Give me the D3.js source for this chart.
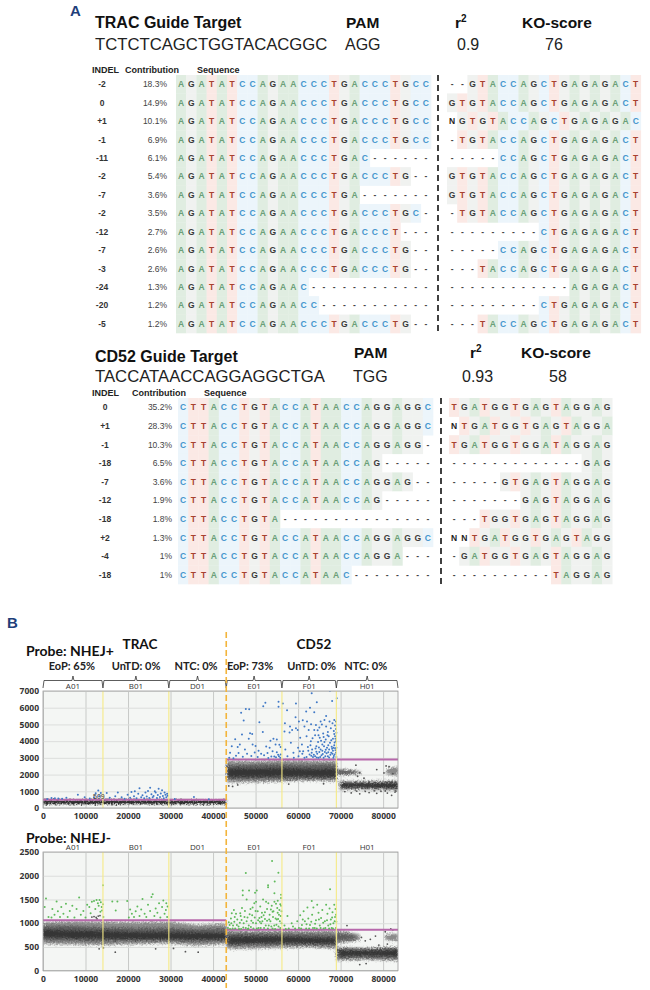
<!DOCTYPE html>
<meta charset="utf-8">
<html>
<head>
<script src="https://d3js.org/d3.v7.min.js"></script>
<style>
  body { margin: 0; background: #fff; }
  text { font-family: "Liberation Sans", Arial, sans-serif; }
  .cal { font-family: Lato, "Open Sans", sans-serif; }
</style>
</head>
<body>
<div id="my_dataviz"></div>
<script>

// ---- panel A data ----
var tracLeftFull = "AGATATCCAGAACCCTGACCCTGCC";
var tracIndel = ["-2", "0", "+1", "-1", "-11", "-2", "-7", "-2", "-12", "-7", "-3", "-24", "-20", "-5"];
var tracContribution = ["18.3%", "14.9%", "10.1%", "6.9%", "6.1%", "5.4%", "3.6%", "3.5%", "2.7%", "2.6%", "2.6%", "1.3%", "1.2%", "1.2%"];
var tracLeft = [tracLeftFull, tracLeftFull, tracLeftFull, tracLeftFull,
  "AGATATCCAGAACCCTGAC------", "AGATATCCAGAACCCTGACCCTG--", "AGATATCCAGAACCCTGA-------",
  "AGATATCCAGAACCCTGACCCTGC-", "AGATATCCAGAACCCTGACCCT---", "AGATATCCAGAACCCTGACCCTG--",
  "AGATATCCAGAACCCTGACCCTG--", "AGATATCCAGAAC------------", "AGATATCCAGAACC-----------",
  "AGATATCCAGAACCCTGACCCTG--"];
var tracRight = ["--GTACCAGCTGAGAGACT", "GTGTACCAGCTGAGAGACT", "NGTGTACCAGCTGAGAGAC", "-TGTACCAGCTGAGAGACT",
  "-----CCAGCTGAGAGACT", "GTGTACCAGCTGAGAGACT", "GTGTACCAGCTGAGAGACT", "-TGTACCAGCTGAGAGACT",
  "---------CTGAGAGACT", "-----CCAGCTGAGAGACT", "---TACCAGCTGAGAGACT", "------------AGAGACT",
  "---------CTGAGAGACT", "---TACCAGCTGAGAGACT"];

var cd52LeftFull = "CTTACCTGTACCATAACCAGGAGGC";
var cd52Indel = ["0", "+1", "-1", "-18", "-7", "-12", "-18", "+2", "-4", "-18"];
var cd52Contribution = ["35.2%", "28.3%", "10.3%", "6.5%", "3.6%", "1.9%", "1.8%", "1.3%", "1%", "1%"];
var cd52Left = [cd52LeftFull, cd52LeftFull, "CTTACCTGTACCATAACCAGGAGG-", "CTTACCTGTACCATAACCAG-----",
  "CTTACCTGTACCATAACCAGGAG--", "CTTACCTGTACCATAACCAG-----", "CTTACCTGTA---------------",
  cd52LeftFull, "CTTACCTGTACCATAACCAGGA---", "CTTACCTGTACCATAAC--------"];
var cd52Right = ["TGATGGTGAGTAGGAG", "NTGATGGTGAGTAGGA", "TGATGGTGGATAGGAG", "-------------GAG",
  "-----GTGAGTAGGAG", "-------GAGTAGGAG", "---TGGTGAGTAGGAG", "NNTGATGGTGAGTAGG",
  "-GATGGTGAGTAGGAG", "----------TAGGAG"];

// ---- panel B data ----
var wellNames = ["A01", "B01", "D01", "E01", "F01", "H01"];
var wellEdges = [0, 14100, 29600, 43100, 56200, 69000, 83500];
var wellHeaders = ["EoP: 65%", "UnTD: 0%", "NTC: 0%", "EoP: 73%", "UnTD: 0%", "NTC: 0%"];
var wellHeaderX = [6800, 21900, 36000, 48700, 63200, 75900];
var xTicks = [0, 10000, 20000, 30000, 40000, 50000, 60000, 70000, 80000];
var topYTicks = [0, 1000, 2000, 3000, 4000, 5000, 6000, 7000];
var bottomYTicks = [0, 500, 1000, 1500, 2000, 2500];

// threshold segments: x from, x to, amplitude
var topThresholds = [[0, 43100, 500], [43100, 83500, 2900]];
var bottomThresholds = [[0, 43100, 1060], [43100, 83500, 860]];

// gray droplet clouds: level (0 outer, 1 mid, 2 core), x stops, low edge, high edge
var topClouds = [
  [3, [0, 43100], [235, 235], [470, 470]],
  [0, [43300, 47000, 52000, 56000, 62000, 69000], [1540, 1520, 1560, 1590, 1640, 1610], [2820, 2800, 2820, 2860, 2830, 2820]],
  [1, [43300, 48000, 56000, 63000, 69000], [1720, 1740, 1740, 1760, 1740], [2560, 2580, 2600, 2580, 2600]],
  [2, [43600, 50000, 56000, 62000, 68800], [1870, 1890, 1900, 1880, 1870], [2360, 2340, 2380, 2320, 2340]],
  [0, [69000, 71000, 73000, 74800], [1970, 1970, 2020, 2080], [2320, 2310, 2270, 2200]],
  [1, [69200, 71500, 73500], [2040, 2040, 2080], [2240, 2230, 2200]],
  [0, [69800, 75000, 83500], [1090, 1110, 1040], [1620, 1600, 1640]],
  [2, [70000, 76000, 83500], [1190, 1210, 1180], [1510, 1500, 1520]],
  [0, [80800, 82000, 83500], [2010, 1980, 1930], [2280, 2450, 2450]]
];
var bottomClouds = [
  [0, [0, 7000, 14100, 22000, 29600, 36000, 43100], [560, 550, 540, 560, 580, 530, 560], [1020, 1040, 1030, 1020, 1030, 960, 990]],
  [1, [0, 7000, 14100, 22000, 29600, 36000, 43100], [640, 630, 620, 630, 630, 610, 630], [940, 940, 910, 900, 900, 870, 890]],
  [2, [0, 7000, 14100, 22000, 29600, 36000, 43100], [710, 690, 680, 670, 670, 660, 660], [860, 840, 830, 810, 810, 800, 790]],
  [0, [43300, 50000, 56200, 62000, 69000], [460, 470, 490, 500, 470], [840, 840, 840, 840, 840]],
  [1, [43300, 50000, 56200, 62000, 69000], [530, 540, 540, 540, 530], [780, 780, 780, 770, 750]],
  [2, [43600, 50000, 56200, 62000, 68800], [575, 585, 595, 585, 575], [715, 715, 715, 695, 685]],
  [0, [69000, 71500, 74500], [580, 600, 640], [840, 820, 760]],
  [1, [69200, 71500, 73500], [630, 650, 670], [780, 760, 730]],
  [0, [69000, 76000, 83500], [220, 230, 210], [490, 480, 500]],
  [1, [69300, 76000, 83500], [270, 280, 260], [460, 450, 460]],
  [2, [69600, 76000, 83500], [315, 325, 305], [425, 415, 435]],
  [0, [80500, 82000, 83500], [650, 630, 630], [750, 780, 770]]
];

// stray gray droplets
var topGray = [[71000, 980], [72500, 900], [73800, 1010], [74500, 850], [75800, 1000], [76700, 920], [77900, 1030], [78500, 880], [79500, 1000], [80500, 1020], [81000, 890], [82000, 760], [82800, 950], [83000, 1020],
  [74000, 1900], [75500, 1780], [74500, 2100], [80200, 2100], [80700, 2520], [81400, 2480], [82300, 2050], [78500, 2300], [73600, 2560], [43700, 1320], [44600, 1290], [45800, 1380], [57800, 1430], [66000, 1450]];
var bottomGray = [[17000, 390], [14200, 480], [13200, 460], [33500, 400], [36500, 390], [26500, 460], [30700, 470], [71500, 950], [74900, 700], [75800, 630], [77000, 660], [78200, 730], [74500, 130], [76000, 150], [80500, 820], [81800, 880], [82300, 860], [81000, 560], [79000, 540], [12000, 1140], [12500, 1120], [13000, 1150], [11500, 1130], [13400, 1160], [12700, 1090]];

// positive droplets, top plot (blue)
var topBlue = [
  // A01
  [1000, 540], [2000, 600], [2800, 590], [3600, 570], [4500, 560], [5500, 620], [8200, 800], [9800, 640], [11000, 570], [12000, 640], [12400, 880], [13000, 1050], [13200, 700], [13600, 900],
  // B01
  [15000, 900], [15700, 620], [17000, 700], [17600, 930], [18500, 640], [19200, 560], [19900, 800], [20500, 620], [20800, 950], [21400, 700], [21600, 1000], [22000, 580], [22400, 860], [22700, 1180], [23100, 650], [23400, 760], [23800, 590], [24100, 930], [24400, 690], [24700, 1010], [25000, 600], [25200, 1210], [25500, 830], [25800, 640], [26000, 720], [26300, 1000], [26500, 920], [26800, 600], [27000, 780], [27200, 1150], [27500, 660], [27700, 870], [28000, 1060], [28200, 720], [28400, 590], [28600, 930], [28800, 800], [29000, 650], [29200, 860], [29300, 740],
  // D01
  [31000, 540], [35500, 660], [39000, 530],
  // E01
  [43800, 3000], [44000, 3310], [44400, 3700], [44800, 2980], [45200, 4120], [45400, 3120], [45800, 3650], [46000, 3290], [46300, 3800], [46600, 5700], [46800, 4400], [47000, 3070], [47200, 5230], [47500, 3500], [47700, 5930], [48000, 3250], [48400, 4140], [48500, 5910], [48700, 4470], [49000, 3110], [49200, 4430], [49300, 3800], [49800, 3320], [50000, 3710], [50500, 3050], [50700, 3420], [50900, 5130], [51300, 3240], [51700, 4550], [51800, 6090], [52000, 3150], [52300, 6300], [52500, 3680], [52800, 3290], [53000, 2990], [53300, 3600], [53500, 4020], [54000, 3400], [54200, 4140], [54400, 3080], [54700, 3800], [55000, 4100], [55000, 3330], [55300, 3190], [55400, 6060], [55400, 6360], [55600, 3780], [55800, 3010], [55900, 3650], [54800, 3030], [55500, 3100], [55900, 3200], [53700, 3080],
  // F01
  [56400, 6245], [56900, 5070], [57400, 5850], [56800, 4570], [57000, 3500], [57500, 3100], [58000, 4510], [58100, 4870], [58300, 3900], [58600, 4670], [58900, 3300], [59000, 3000], [59400, 5430], [59500, 6245], [59500, 4770], [59900, 4670], [60000, 3600], [60100, 3100], [60200, 5170], [60500, 4200], [60900, 3800], [61100, 5250], [61200, 3400], [61500, 4870], [61500, 3000], [61900, 5770], [62000, 4300], [62100, 5170], [62300, 3650], [62500, 4670], [62700, 3200], [62800, 6005], [63000, 4000], [63050, 5010], [63200, 6860], [63300, 3500], [63500, 3050], [63800, 5730], [63800, 4670], [64000, 4350], [64200, 4970], [64300, 3700], [64400, 6325], [64500, 3250], [64700, 3950], [64800, 3000], [65000, 4810], [65100, 4200], [65300, 5170], [65300, 3500], [65500, 3150], [65700, 3800], [65900, 4450], [66000, 3000], [66200, 5270], [66300, 3350], [66500, 4100], [66600, 5510], [66600, 4870], [66800, 3600], [67000, 3100], [67200, 4300], [67400, 5170], [67500, 7020], [67500, 3900], [67700, 4770], [67800, 3300], [68000, 6400], [68000, 3550], [68100, 5070], [68200, 4150], [68300, 3000], [68400, 4600], [68500, 5270], [68500, 3750], [68600, 3200], [68700, 4930], [68800, 3450], [68900, 5170], [68900, 4730], [68900, 4000], [69000, 3600], [69100, 6560], [69000, 3050], [68700, 4300], [69000, 4500], [68300, 3600], [67300, 3500], [66200, 3950], [65000, 3350], [64000, 3100], [63200, 3300], [62000, 3050], [61000, 3250], [60400, 3400], [68100, 3250], [67000, 4550], [65600, 5000], [64600, 4650],
  [62400, 3420], [62900, 3760], [63400, 4180], [63700, 3180], [64100, 3560], [64400, 3020], [64900, 3620], [65200, 3050], [65400, 4020], [65800, 3230], [66100, 3700], [66400, 3090], [66700, 3270], [66900, 4350], [67100, 3750], [67300, 3020], [67600, 3180], [67800, 4050], [67900, 3660], [68200, 3430], [68400, 3110], [68600, 3920], [68700, 3580], [68900, 3300], [68800, 4150], [68500, 4420], [67100, 3340], [66500, 3480], [65700, 3420], [64300, 3370], [63100, 3120], [66000, 4250], [64800, 4350]
];

// positive droplets, bottom plot (green)
var bottomGreen = [
  // A01
  [400, 1340], [700, 1520], [1300, 1130], [2000, 1120], [2200, 1300], [2700, 1180], [3200, 1460], [3500, 1250], [4000, 1130], [4300, 1340], [4800, 1200], [5400, 1410], [5800, 1130], [6300, 1260], [6900, 1370], [7400, 1120], [7900, 1300], [8500, 1540], [8900, 1180], [9500, 1260], [10000, 1120], [10400, 1390], [10900, 1340], [11200, 1210], [11500, 1450], [12000, 1470], [12300, 1300], [12600, 1490], [12900, 1420], [13100, 1370], [13300, 1490], [13500, 1240], [13600, 1440], [13800, 1340], [13900, 1270], [14100, 1800], [14200, 1130], [14100, 1400],
  // B01
  [16300, 1460], [17100, 1270], [17500, 1460], [19800, 1470], [20200, 1120], [20500, 1290], [20900, 1200], [21400, 1130], [21800, 1250], [22200, 1350], [22700, 1150], [23100, 1290], [23400, 1510], [23900, 1200], [24300, 1130], [24700, 1390], [25200, 1260], [25500, 1550], [25800, 1610], [26200, 1150], [26500, 1310], [26900, 1220], [27300, 1420], [27600, 1120], [28000, 1340], [28300, 1480], [28600, 1200], [28900, 1280], [29200, 1130], [29300, 1350], [29000, 1420],
  // E01
  [43500, 900], [43700, 1020], [44000, 880], [44200, 1100], [44400, 1210], [44700, 950], [45000, 1030], [45200, 890], [45400, 1200], [45700, 1080], [46000, 930], [46300, 1010], [46500, 1150], [46600, 880], [46980, 1690], [46980, 1590], [47200, 1000], [47500, 1260], [47700, 2060], [47700, 900], [47900, 1500], [48100, 1120], [48400, 950], [48470, 1690], [48800, 1300], [49000, 1050], [49200, 1170], [49500, 890], [49700, 1420], [49880, 1640], [50100, 1000], [50120, 1450], [50270, 1690], [50500, 1250], [50700, 900], [50900, 1110], [51100, 1350], [51300, 1000], [51500, 1220], [51760, 1500], [52000, 900], [52200, 1090], [52470, 1450], [52700, 1300], [52940, 1800], [52940, 1760], [53100, 950], [53300, 1180], [53500, 1040], [53880, 2310], [53800, 1370], [54000, 890], [54200, 1250], [54430, 1630], [54430, 1450], [54500, 1880], [54700, 1100], [54900, 970], [55100, 1320], [55210, 1475], [55370, 2065], [55500, 1180], [55700, 1040], [55800, 900], [56000, 1600], [56000, 1530], [56000, 1370], [56100, 1250], [56100, 1000], [44900, 1280], [46800, 1320], [48300, 890], [49300, 1330], [51000, 1030], [52200, 1230], [53600, 1290], [54800, 1410], [55300, 1090],
  [43900, 960], [44600, 890], [45100, 1130], [45600, 960], [46100, 880], [46700, 1070], [47100, 910], [47400, 1130], [47900, 1040], [48200, 880], [48600, 1190], [48900, 920], [49400, 1010], [49800, 1120], [50300, 890], [50600, 1060], [51200, 900], [51600, 1040], [51900, 1170], [52400, 950], [52700, 1050], [52900, 890], [53200, 1080], [53700, 930], [54100, 1130], [54400, 950], [54600, 880], [55000, 1080], [55400, 930], [55600, 1280], [55900, 1150], [44300, 1000], [46400, 1210], [50000, 1260], [51400, 1130], [53000, 1420], [54000, 1240], [55200, 1220], [55800, 1400],
  // F01
  [56800, 950], [57500, 1150], [57800, 890], [58500, 1000], [59300, 890], [59800, 1040], [60200, 900], [60500, 1170], [60900, 960], [61300, 1250], [61600, 1040], [61900, 890], [62200, 1330], [62400, 1100], [62800, 960], [63210, 1470], [63300, 1180], [63600, 1330], [63900, 900], [64200, 1060], [64500, 1390], [64800, 1220], [65100, 950], [65400, 1110], [65700, 1280], [66000, 890], [66300, 1040], [66600, 1390], [66900, 1200], [67100, 950], [67520, 1714], [67400, 1310], [67700, 1080], [67900, 900], [68100, 1230], [68300, 1000], [68500, 1390], [68700, 1130], [68900, 900], [68800, 1300], [69000, 1030],
  [60700, 890], [61100, 1080], [62000, 980], [62600, 890], [63100, 1030], [63500, 900], [64000, 990], [64400, 890], [64900, 1080], [65300, 900], [65900, 1010], [66400, 900], [66800, 1060], [67300, 890], [67600, 980], [68000, 1120], [68200, 890], [68600, 1040], [68900, 1180], [58800, 930], [57100, 880]
];

// ---- layout ----
var svg = d3.select("#my_dataviz")
  .append("svg")
  .attr("width", 650)
  .attr("height", 990)
  .style("display", "block");

var defs = svg.append("defs");
// ragged, soft edges for the droplet clouds
var rough = defs.append("filter").attr("id", "rough")
  .attr("x", "-5%").attr("y", "-40%").attr("width", "110%").attr("height", "180%");
rough.append("feGaussianBlur").attr("in", "SourceGraphic").attr("stdDeviation", 0.8).attr("result", "b");
rough.append("feTurbulence").attr("type", "fractalNoise").attr("baseFrequency", 0.6).attr("numOctaves", 2).attr("seed", 4).attr("result", "n");
rough.append("feDisplacementMap").attr("in", "b").attr("in2", "n").attr("scale", 5);

var baseColor = { A: "#e0ede1", C: "#ecf5fb", G: "#f0f2f0", T: "#fbe9e5" };
var letterColor = { A: "#6a9f78", C: "#4596cd", G: "#3a3a3a", T: "#a8412f", N: "#222", "-": "#444" };
var cloudColor = ["#8a8a8a", "#5c5c5c", "#363636", "#141414"];

function drawTable(g, o) {
  var rows = d3.range(o.indel.length);
  var y = d3.scaleBand().domain(rows).range([o.top, o.bottom]);
  var xLeft = d3.scaleBand().domain(d3.range(o.left[0].length))
    .range([o.leftStart, o.leftStart + o.pitch * o.left[0].length]);
  var xRight = d3.scaleBand().domain(d3.range(o.right[0].length))
    .range([o.rightStart, o.rightStart + o.pitch * o.right[0].length]);

  function strand(seqs, x) {
    var cells = [];
    seqs.forEach(function(s, r) {
      s.split("").forEach(function(b, i) { cells.push({ r: r, i: i, b: b }); });
    });
    g.append("g").selectAll("rect").data(cells.filter(function(d) { return baseColor[d.b]; }))
      .enter().append("rect")
      .attr("x", function(d) { return x(d.i); })
      .attr("y", function(d) { return y(d.r); })
      .attr("width", x.bandwidth() + 0.3)
      .attr("height", y.bandwidth() + 0.3)
      .attr("fill", function(d) { return baseColor[d.b]; });
    g.append("g").selectAll("text").data(cells)
      .enter().append("text")
      .attr("x", function(d) { return x(d.i) + x.bandwidth() / 2; })
      .attr("y", function(d) { return y(d.r) + y.bandwidth() / 2 + 3; })
      .attr("text-anchor", "middle")
      .attr("font-size", "8.5px")
      .attr("font-weight", "bold")
      .attr("fill", function(d) { return letterColor[d.b]; })
      .text(function(d) { return d.b; });
  }
  strand(o.left, xLeft);
  strand(o.right, xRight);

  g.append("g").selectAll("text").data(o.indel).enter().append("text")
    .attr("x", o.indelX)
    .attr("y", function(d, i) { return y(i) + y.bandwidth() / 2 + 3; })
    .attr("text-anchor", "middle").attr("font-size", "8.5px").attr("font-weight", "bold").attr("fill", "#333")
    .text(function(d) { return d; });
  g.append("g").selectAll("text").data(o.contribution).enter().append("text")
    .attr("x", o.contributionX)
    .attr("y", function(d, i) { return y(i) + y.bandwidth() / 2 + 3; })
    .attr("text-anchor", "end").attr("font-size", "8.5px").attr("fill", "#444")
    .text(function(d) { return d; });

  // cut site
  g.append("line").attr("x1", o.cutX).attr("x2", o.cutX).attr("y1", o.top).attr("y2", o.bottom + 2)
    .attr("stroke", "#111").attr("stroke-width", 1.6).attr("stroke-dasharray", "6 4");

  // headings
  [["INDEL", o.headX[0]], ["Contribution", o.headX[1]], ["Sequence", o.headX[2]]].forEach(function(h) {
    g.append("text").attr("x", h[1]).attr("y", o.headY).attr("font-size", "9px").attr("font-weight", "bold")
      .attr("fill", "#222").text(h[0]);
  });
  g.append("text").attr("x", o.titleX).attr("y", o.titleY).attr("font-size", "16px").attr("font-weight", "bold").attr("fill", "#111").text(o.title);
  g.append("text").attr("x", o.titleX).attr("y", o.seqY).attr("font-size", "16.7px").attr("fill", "#222").text(o.guide);
  g.append("text").attr("x", o.pamX).attr("y", o.labelY).attr("font-size", "15.5px").attr("font-weight", "bold").attr("fill", "#111").text("PAM");
  g.append("text").attr("x", o.pamX - 1).attr("y", o.seqY).attr("font-size", "16px").attr("fill", "#222").text(o.pam);
  var r2 = g.append("text").attr("x", o.rX).attr("y", o.labelY).attr("font-size", "15.5px").attr("font-weight", "bold").attr("fill", "#111");
  r2.append("tspan").text("r");
  r2.append("tspan").attr("dy", -6).attr("font-size", "10px").text("2");
  g.append("text").attr("x", o.r2X).attr("y", o.seqY).attr("font-size", "16px").attr("fill", "#222").text(o.r2);
  g.append("text").attr("x", o.koX).attr("y", o.labelY).attr("font-size", "15.5px").attr("font-weight", "bold").attr("fill", "#111").text("KO-score");
  g.append("text").attr("x", o.koValX).attr("y", o.seqY).attr("font-size", "16px").attr("fill", "#222").text(o.ko);
}

drawTable(svg.append("g"), {
  indel: tracIndel, contribution: tracContribution, left: tracLeft, right: tracRight,
  top: 75, bottom: 333, leftStart: 176, rightStart: 447, pitch: 10.2, cutX: 438,
  indelX: 102, contributionX: 167, headX: [92, 125, 197], headY: 73,
  title: "TRAC Guide Target", guide: "TCTCTCAGCTGGTACACGGC", pam: "AGG", r2: "0.9", ko: "76",
  titleX: 95, titleY: 28, seqY: 50, labelY: 28, pamX: 346, rX: 455, r2X: 457, koX: 522, koValX: 545
});
drawTable(svg.append("g"), {
  indel: cd52Indel, contribution: cd52Contribution, left: cd52Left, right: cd52Right,
  top: 398, bottom: 584, leftStart: 178, rightStart: 449, pitch: 10.2, cutX: 441,
  indelX: 105, contributionX: 172, headX: [92, 132, 204], headY: 396,
  title: "CD52 Guide Target", guide: "TACCATAACCAGGAGGCTGA", pam: "TGG", r2: "0.93", ko: "58",
  titleX: 95, titleY: 362, seqY: 382, labelY: 358, pamX: 354, rX: 470, r2X: 462, koX: 521, koValX: 549
});

svg.append("text").attr("x", 70).attr("y", 16).attr("font-size", "15px").attr("font-weight", "bold").attr("fill", "#1f3f7a").text("A");
svg.append("text").attr("x", 7).attr("y", 628).attr("font-size", "15px").attr("font-weight", "bold").attr("fill", "#1f3f7a").text("B");

// droplet plots
var x = d3.scaleLinear().domain([0, 83500]).range([43, 398]);

function drawPlot(o) {
  var y = d3.scaleLinear().domain(o.domain).range([o.bottom, o.top]);
  var g = svg.append("g");
  var clipId = "clip" + o.top;
  defs.append("clipPath").attr("id", clipId).append("rect")
    .attr("x", x(0)).attr("y", o.top).attr("width", x(83500) - x(0)).attr("height", o.bottom - o.top);

  g.append("rect").attr("x", x(0)).attr("y", o.top).attr("width", x(83500) - x(0)).attr("height", o.bottom - o.top)
    .attr("fill", "#f4f6f4");

  var xAxis = g.append("g").attr("transform", "translate(0," + o.bottom + ")")
    .call(d3.axisBottom(x).tickValues(xTicks).tickFormat(d3.format("d")).tickSize(-(o.bottom - o.top)).tickPadding(5));
  var yAxis = g.append("g").attr("transform", "translate(" + x(0) + ",0)")
    .call(d3.axisLeft(y).tickValues(o.ticks).tickFormat(d3.format("d")).tickSize(-(x(83500) - x(0))).tickPadding(4));
  [xAxis, yAxis].forEach(function(a) {
    a.select(".domain").remove();
    a.selectAll("line").attr("stroke", "#dcdedc");
    a.selectAll("text").style("font-family", "'Open Sans', sans-serif")
      .attr("font-size", "8.5px").attr("font-weight", "bold").attr("fill", "#333");
  });
  xAxis.selectAll("line").attr("stroke", "#c8cac8");

  var plot = g.append("g").attr("clip-path", "url(#" + clipId + ")");

  var area = d3.area()
    .x(function(d) { return x(d[0]); })
    .y0(function(d) { return y(d[1]); })
    .y1(function(d) { return y(d[2]); });
  plot.append("g").selectAll("path").data(o.clouds).enter().append("path")
    .attr("d", function(c) { return area(d3.zip(c[1], c[2], c[3])); })
    .attr("fill", function(c) { return cloudColor[c[0]]; })
    .attr("filter", "url(#rough)");

  plot.append("g").selectAll("circle").data(o.gray).enter().append("circle")
    .attr("cx", function(d) { return x(d[0]); })
    .attr("cy", function(d) { return y(d[1]); })
    .attr("r", 0.9).attr("fill", "#555");

  plot.append("g").selectAll("line").data(o.thresholds).enter().append("line")
    .attr("x1", function(d) { return x(d[0]); })
    .attr("x2", function(d) { return x(d[1]); })
    .attr("y1", function(d) { return y(d[2]); })
    .attr("y2", function(d) { return y(d[2]); })
    .attr("stroke", "#b768ab").attr("stroke-width", 2);

  plot.append("g").selectAll("circle").data(o.dots).enter().append("circle")
    .attr("cx", function(d) { return x(d[0]); })
    .attr("cy", function(d) { return y(d[1]); })
    .attr("r", 1).attr("fill", o.dotColor);

  // well separators
  plot.append("g").selectAll("line").data(wellEdges.filter(function(d, i) { return i > 0 && i < 6 && i !== 3; })).enter().append("line")
    .attr("x1", function(d) { return x(d); })
    .attr("x2", function(d) { return x(d); })
    .attr("y1", o.top).attr("y2", o.bottom)
    .attr("stroke", "#f6ea86").attr("stroke-width", 1.1);

  g.append("rect").attr("x", x(0)).attr("y", o.top).attr("width", x(83500) - x(0)).attr("height", o.bottom - o.top)
    .attr("fill", "none").attr("stroke", "#9a9a9a").attr("stroke-width", 0.8);

  // well names
  g.append("g").selectAll("text").data(wellNames).enter().append("text")
    .attr("x", function(d, i) { return (x(wellEdges[i]) + x(wellEdges[i + 1])) / 2; })
    .attr("y", o.top - 2.5)
    .attr("text-anchor", "middle").attr("font-size", "8px").attr("fill", "#333")
    .style("font-family", "'Open Sans', sans-serif")
    .text(function(d) { return d; });
}

drawPlot({ top: 691, bottom: 808, domain: [0, 7000], ticks: topYTicks, clouds: topClouds, gray: topGray,
  thresholds: topThresholds, dots: topBlue, dotColor: "#4079c6" });
drawPlot({ top: 852, bottom: 970.7, domain: [0, 2500], ticks: bottomYTicks, clouds: bottomClouds, gray: bottomGray,
  thresholds: bottomThresholds, dots: bottomGreen, dotColor: "#5fba5b" });

// brackets over the wells of the first plot
var bracket = d3.line();
svg.append("g").selectAll("path").data(wellNames).enter().append("path")
  .attr("d", function(d, i) {
    var a = x(wellEdges[i]), b = x(wellEdges[i + 1]), m = (a + b) / 2;
    return bracket([[a, 688], [a + 1, 680.5], [m - 1, 680.5], [m, 676], [m + 1, 680.5], [b - 1, 680.5], [b, 688]]);
  })
  .attr("fill", "none").attr("stroke", "#333").attr("stroke-width", 0.8);

svg.append("g").selectAll("text").data(wellHeaders).enter().append("text")
  .attr("class", "cal")
  .attr("x", function(d, i) { return x(wellHeaderX[i]); })
  .attr("y", 670)
  .attr("text-anchor", "middle").attr("font-size", "11px").attr("font-weight", "bold").attr("fill", "#222")
  .text(function(d) { return d; });

[["TRAC", 140, 649], ["CD52", 314, 649]].forEach(function(t) {
  svg.append("text").attr("class", "cal").attr("x", t[1]).attr("y", t[2]).attr("text-anchor", "middle")
    .attr("font-size", "13.5px").attr("font-weight", "bold").attr("fill", "#111").text(t[0]);
});
[["Probe: NHEJ+", 26, 656], ["Probe: NHEJ-", 26, 843]].forEach(function(t) {
  svg.append("text").attr("class", "cal").attr("x", t[1]).attr("y", t[2])
    .attr("font-size", "14px").attr("font-weight", "bold").attr("fill", "#111").text(t[0]);
});
svg.append("text").attr("x", 93).attr("y", 799).attr("font-size", "7px").attr("fill", "#333").text("509");

// dashed divider between the two targets
svg.append("line").attr("x1", x(43100)).attr("x2", x(43100)).attr("y1", 632).attr("y2", 988)
  .attr("stroke", "#f3b53c").attr("stroke-width", 1.6).attr("stroke-dasharray", "6 3");

</script>
</body>
</html>
